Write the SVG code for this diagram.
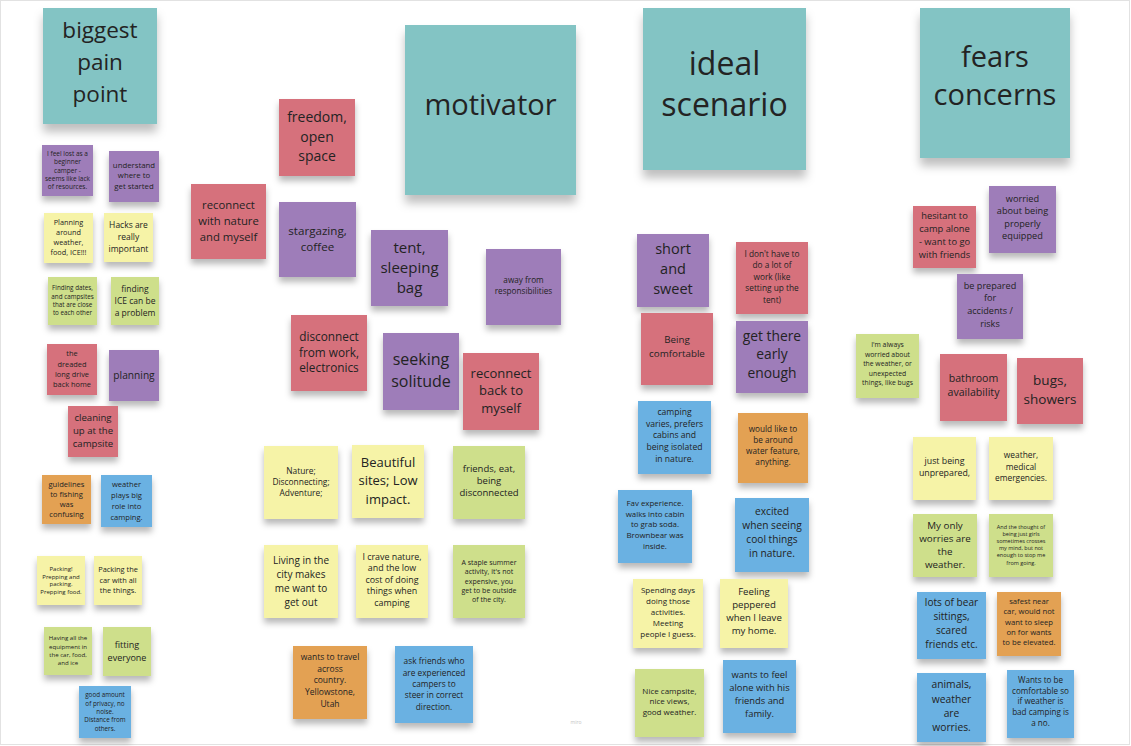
<svg xmlns="http://www.w3.org/2000/svg" width="1131" height="746" viewBox="0 0 1131 746">
<defs>
<filter id="sh" x="-20%" y="-20%" width="140%" height="150%"><feDropShadow dx="0" dy="5" stdDeviation="3" flood-color="#000" flood-opacity="0.28"/></filter>
<filter id="shb" x="-20%" y="-20%" width="140%" height="150%"><feDropShadow dx="0" dy="8" stdDeviation="5" flood-color="#000" flood-opacity="0.25"/></filter>
</defs>
<style>
.n rect{filter:url(#sh)}
.h rect{filter:url(#shb)}
text{font-family:"Open Sans","Liberation Sans",sans-serif;text-anchor:middle;fill:#232323}
.teal{fill:#83c4c4}.red{fill:#d6717b}.pur{fill:#9e7db9}.yel{fill:#f6f3a7}.grn{fill:#cedf8b}.org{fill:#e3a152}.blu{fill:#6bb1e2}
</style>
<rect x="0" y="0" width="1131" height="746" fill="#ffffff"/>
<rect x="0.5" y="0.5" width="1129" height="744" fill="none" stroke="#e2e2e2" stroke-width="1"/>

<g id="connectors"></g>

<!-- headers -->
<g id="h-pain" class="h"><rect class="teal" x="43" y="8" width="114" height="116"/><text font-size="22.5"><tspan x="100" y="38">biggest</tspan><tspan x="100" y="70">pain</tspan><tspan x="100" y="102">point</tspan></text></g>
<g id="h-motivator" class="h"><rect class="teal" x="405" y="25" width="171" height="170"/><text font-size="29"><tspan x="490.5" y="115">motivator</tspan></text></g>
<g id="h-ideal" class="h"><rect class="teal" x="643" y="8" width="163" height="162"/><text font-size="32"><tspan x="724.5" y="75">ideal</tspan><tspan x="724.5" y="116">scenario</tspan></text></g>
<g id="h-fears" class="h"><rect class="teal" x="920" y="8" width="150" height="150"/><text font-size="29"><tspan x="995" y="67">fears</tspan><tspan x="995" y="105">concerns</tspan></text></g>

<!-- biggest pain point column -->
<g id="p1" class="n"><rect class="pur" x="42" y="145" width="51" height="51"/><text font-size="6.5"><tspan x="67.5" y="155.9">I feel lost as a</tspan><tspan x="67.5" y="164.2">beginner</tspan><tspan x="67.5" y="172.5">camper -</tspan><tspan x="67.5" y="180.8">seems like lack</tspan><tspan x="67.5" y="189.1">of resources.</tspan></text></g>
<g id="p2" class="n"><rect class="pur" x="109" y="151" width="50" height="51"/><text font-size="7.8"><tspan x="134" y="167.8">understand</tspan><tspan x="134" y="178.4">where to</tspan><tspan x="134" y="189">get started</tspan></text></g>
<g id="p3" class="n"><rect class="yel" x="44" y="213" width="49" height="50"/><text font-size="7.3"><tspan x="68.5" y="225.2">Planning</tspan><tspan x="68.5" y="235.2">around</tspan><tspan x="68.5" y="245.2">weather,</tspan><tspan x="68.5" y="255.2">food, ICE!!!</tspan></text></g>
<g id="p4" class="n"><rect class="yel" x="104" y="213" width="49" height="49"/><text font-size="8.5"><tspan x="128.5" y="228.4">Hacks are</tspan><tspan x="128.5" y="240.1">really</tspan><tspan x="128.5" y="251.8">important</tspan></text></g>
<g id="p5" class="n"><rect class="grn" x="48" y="277" width="49" height="48"/><text font-size="6.3"><tspan x="72.5" y="290.4">Finding dates,</tspan><tspan x="72.5" y="298.7">and campsites</tspan><tspan x="72.5" y="307">that are close</tspan><tspan x="72.5" y="315.3">to each other</tspan></text></g>
<g id="p6" class="n"><rect class="grn" x="111" y="277" width="48" height="48"/><text font-size="8.5"><tspan x="135" y="291.6">finding</tspan><tspan x="135" y="303.6">ICE can be</tspan><tspan x="135" y="315.6">a problem</tspan></text></g>
<g id="p7" class="n"><rect class="red" x="47" y="344" width="50" height="51"/><text font-size="7.4"><tspan x="72" y="356.3">the</tspan><tspan x="72" y="366.6">dreaded</tspan><tspan x="72" y="376.9">long drive</tspan><tspan x="72" y="387.2">back home</tspan></text></g>
<g id="p8" class="n"><rect class="pur" x="109" y="350" width="50" height="51"/><text font-size="10.2"><tspan x="134" y="378.6">planning</tspan></text></g>
<g id="p9" class="n"><rect class="red" x="68" y="406" width="50" height="51"/><text font-size="9.6"><tspan x="93" y="421.4">cleaning</tspan><tspan x="93" y="434.4">up at the</tspan><tspan x="93" y="447.4">campsite</tspan></text></g>
<g id="p10" class="n"><rect class="org" x="42" y="475" width="49" height="49"/><text font-size="7.6"><tspan x="66.5" y="486.8">guidelines</tspan><tspan x="66.5" y="496.8">to fishing</tspan><tspan x="66.5" y="506.8">was</tspan><tspan x="66.5" y="516.8">confusing</tspan></text></g>
<g id="p11" class="n"><rect class="blu" x="101" y="475" width="51" height="52"/><text font-size="7.6"><tspan x="126.5" y="486.8">weather</tspan><tspan x="126.5" y="497.8">plays big</tspan><tspan x="126.5" y="508.8">role into</tspan><tspan x="126.5" y="519.8">camping.</tspan></text></g>
<g id="p12" class="n"><rect class="yel" x="37" y="556" width="48" height="49"/><text font-size="6"><tspan x="61" y="570.8">Packing!</tspan><tspan x="61" y="578.5">Prepping and</tspan><tspan x="61" y="586.2">packing.</tspan><tspan x="61" y="593.9">Prepping food.</tspan></text></g>
<g id="p13" class="n"><rect class="yel" x="94" y="556" width="48" height="49"/><text font-size="7.4"><tspan x="118" y="572.2">Packing the</tspan><tspan x="118" y="582.7">car with all</tspan><tspan x="118" y="593.2">the things.</tspan></text></g>
<g id="p14" class="n"><rect class="grn" x="44" y="627" width="48" height="48"/><text font-size="6.1"><tspan x="68" y="640.2">Having all the</tspan><tspan x="68" y="648.6">equipment in</tspan><tspan x="68" y="657">the car, food,</tspan><tspan x="68" y="665.4">and ice</tspan></text></g>
<g id="p15" class="n"><rect class="grn" x="103" y="627" width="48" height="49"/><text font-size="9"><tspan x="127" y="647.9">fitting</tspan><tspan x="127" y="660.6">everyone</tspan></text></g>
<g id="p16" class="n"><rect class="blu" x="79" y="686" width="52" height="52"/><text font-size="6.3"><tspan x="105" y="697.3">good amount</tspan><tspan x="105" y="705.6">of privacy, no</tspan><tspan x="105" y="713.9">noise.</tspan><tspan x="105" y="722.2">Distance from</tspan><tspan x="105" y="730.5">others.</tspan></text></g>

<!-- motivator -->
<g id="m1" class="n"><rect class="red" x="279" y="99" width="76" height="77"/><text font-size="14"><tspan x="317" y="122.2">freedom,</tspan><tspan x="317" y="141.7">open</tspan><tspan x="317" y="161.2">space</tspan></text></g>
<g id="m2" class="n"><rect class="red" x="191" y="184" width="75" height="75"/><text font-size="11.3"><tspan x="228.5" y="209.2">reconnect</tspan><tspan x="228.5" y="224.9">with nature</tspan><tspan x="228.5" y="240.6">and myself</tspan></text></g>
<g id="m3" class="n"><rect class="pur" x="279" y="202" width="77" height="75"/><text font-size="11.6"><tspan x="317.5" y="235.1">stargazing,</tspan><tspan x="317.5" y="250.8">coffee</tspan></text></g>
<g id="m4" class="n"><rect class="pur" x="371" y="230" width="77" height="76"/><text font-size="15"><tspan x="409.5" y="252.5">tent,</tspan><tspan x="409.5" y="272.5">sleeping</tspan><tspan x="409.5" y="292.5">bag</tspan></text></g>
<g id="m5" class="n"><rect class="pur" x="486" y="249" width="75" height="76"/><text font-size="8.2"><tspan x="523.5" y="282.5">away from</tspan><tspan x="523.5" y="294">responsibilities</tspan></text></g>
<g id="m6" class="n"><rect class="red" x="291" y="315" width="76" height="76"/><text font-size="11.8"><tspan x="329" y="340.7">disconnect</tspan><tspan x="329" y="356.5">from work,</tspan><tspan x="329" y="372.3">electronics</tspan></text></g>
<g id="m7" class="n"><rect class="pur" x="383" y="333" width="76" height="77"/><text font-size="16"><tspan x="421" y="365.3">seeking</tspan><tspan x="421" y="387.3">solitude</tspan></text></g>
<g id="m8" class="n"><rect class="red" x="463" y="353" width="76" height="77"/><text font-size="13"><tspan x="501" y="378.2">reconnect</tspan><tspan x="501" y="395.4">back to</tspan><tspan x="501" y="412.6">myself</tspan></text></g>
<g id="m9" class="n"><rect class="yel" x="264" y="446" width="74" height="73"/><text font-size="8.4"><tspan x="301" y="473.7">Nature;</tspan><tspan x="301" y="485">Disconnecting;</tspan><tspan x="301" y="496.3">Adventure;</tspan></text></g>
<g id="m10" class="n"><rect class="yel" x="352" y="445" width="72" height="73"/><text font-size="13"><tspan x="388" y="466.7">Beautiful</tspan><tspan x="388" y="485.4">sites; Low</tspan><tspan x="388" y="504.1">impact.</tspan></text></g>
<g id="m11" class="n"><rect class="grn" x="453" y="446" width="72" height="73"/><text font-size="9.5"><tspan x="489" y="471.5">friends, eat,</tspan><tspan x="489" y="483.7">being</tspan><tspan x="489" y="495.9">disconnected</tspan></text></g>
<g id="m12" class="n"><rect class="yel" x="264" y="545" width="74" height="73"/><text font-size="10"><tspan x="301" y="563.5">Living in the</tspan><tspan x="301" y="577.5">city makes</tspan><tspan x="301" y="591.5">me want to</tspan><tspan x="301" y="605.5">get out</tspan></text></g>
<g id="m13" class="n"><rect class="yel" x="356" y="545" width="72" height="73"/><text font-size="8.9"><tspan x="392" y="559.5">I crave nature,</tspan><tspan x="392" y="571">and the low</tspan><tspan x="392" y="582.5">cost of doing</tspan><tspan x="392" y="594">things when</tspan><tspan x="392" y="605.5">camping</tspan></text></g>
<g id="m14" class="n"><rect class="grn" x="453" y="545" width="72" height="73"/><text font-size="7"><tspan x="489" y="564.8">A staple summer</tspan><tspan x="489" y="574.2">activity, it's not</tspan><tspan x="489" y="583.6">expensive, you</tspan><tspan x="489" y="593">get to be outside</tspan><tspan x="489" y="602.4">of the city.</tspan></text></g>
<g id="m15" class="n"><rect class="org" x="293" y="646" width="74" height="73"/><text font-size="8.5"><tspan x="330" y="660">wants to travel</tspan><tspan x="330" y="671.7">across</tspan><tspan x="330" y="683.4">country.</tspan><tspan x="330" y="695.1">Yellowstone,</tspan><tspan x="330" y="706.8">Utah</tspan></text></g>
<g id="m16" class="n"><rect class="blu" x="395" y="646" width="78" height="77"/><text font-size="8.3"><tspan x="434" y="664.4">ask friends who</tspan><tspan x="434" y="675.7">are experienced</tspan><tspan x="434" y="687">campers to</tspan><tspan x="434" y="698.3">steer in correct</tspan><tspan x="434" y="709.6">direction.</tspan></text></g>

<!-- ideal scenario -->
<g id="i1" class="n"><rect class="pur" x="637" y="234" width="72" height="73"/><text font-size="14.5"><tspan x="673" y="253.5">short</tspan><tspan x="673" y="273.5">and</tspan><tspan x="673" y="293.5">sweet</tspan></text></g>
<g id="i2" class="n"><rect class="red" x="736" y="242" width="72" height="72"/><text font-size="8.3"><tspan x="772" y="256.5">I don't have to</tspan><tspan x="772" y="268">do a lot of</tspan><tspan x="772" y="279.5">work (like</tspan><tspan x="772" y="291">setting up the</tspan><tspan x="772" y="302.5">tent)</tspan></text></g>
<g id="i3" class="n"><rect class="red" x="641" y="313" width="72" height="72"/><text font-size="9.8"><tspan x="677" y="343">Being</tspan><tspan x="677" y="357">comfortable</tspan></text></g>
<g id="i4" class="n"><rect class="pur" x="736" y="321" width="72" height="72"/><text font-size="13.8"><tspan x="772" y="340.5">get there</tspan><tspan x="772" y="359.2">early</tspan><tspan x="772" y="377.9">enough</tspan></text></g>
<g id="i5" class="n"><rect class="blu" x="638" y="401" width="73" height="73"/><text font-size="8.6"><tspan x="674.5" y="414.8">camping</tspan><tspan x="674.5" y="426.5">varies, prefers</tspan><tspan x="674.5" y="438.2">cabins and</tspan><tspan x="674.5" y="449.9">being isolated</tspan><tspan x="674.5" y="461.6">in nature.</tspan></text></g>
<g id="i6" class="n"><rect class="org" x="738" y="413" width="70" height="70"/><text font-size="8.2"><tspan x="773" y="432">would like to</tspan><tspan x="773" y="443">be around</tspan><tspan x="773" y="454">water feature,</tspan><tspan x="773" y="465">anything.</tspan></text></g>
<g id="i7" class="n"><rect class="blu" x="618" y="490" width="74" height="73"/><text font-size="7.9"><tspan x="655" y="505.8">Fav experience.</tspan><tspan x="655" y="516.6">walks into cabin</tspan><tspan x="655" y="527.4">to grab soda.</tspan><tspan x="655" y="538.2">Brownbear was</tspan><tspan x="655" y="549">inside.</tspan></text></g>
<g id="i8" class="n"><rect class="blu" x="735" y="498" width="74" height="74"/><text font-size="10.2"><tspan x="772" y="515">excited</tspan><tspan x="772" y="529">when seeing</tspan><tspan x="772" y="543">cool things</tspan><tspan x="772" y="557">in nature.</tspan></text></g>
<g id="i9" class="n"><rect class="yel" x="633" y="579" width="70" height="69"/><text font-size="8"><tspan x="668" y="592.5">Spending days</tspan><tspan x="668" y="603.5">doing those</tspan><tspan x="668" y="614.5">activities.</tspan><tspan x="668" y="625.5">Meeting</tspan><tspan x="668" y="636.5">people I guess.</tspan></text></g>
<g id="i10" class="n"><rect class="yel" x="720" y="579" width="68" height="69"/><text font-size="9.6"><tspan x="754" y="595.3">Feeling</tspan><tspan x="754" y="608.3">peppered</tspan><tspan x="754" y="621.3">when I leave</tspan><tspan x="754" y="634.3">my home.</tspan></text></g>
<g id="i11" class="n"><rect class="grn" x="635" y="669" width="69" height="68"/><text font-size="8"><tspan x="669.5" y="693.5">Nice campsite,</tspan><tspan x="669.5" y="704.2">nice views,</tspan><tspan x="669.5" y="714.9">good weather.</tspan></text></g>
<g id="i12" class="n"><rect class="blu" x="723" y="660" width="73" height="73"/><text font-size="9.4"><tspan x="759.5" y="677.8">wants to feel</tspan><tspan x="759.5" y="690.8">alone with his</tspan><tspan x="759.5" y="703.8">friends and</tspan><tspan x="759.5" y="716.8">family.</tspan></text></g>

<!-- fears concerns -->
<g id="f1" class="n"><rect class="red" x="913" y="206" width="63" height="62"/><text font-size="9.3"><tspan x="944.5" y="218.5">hesitant to</tspan><tspan x="944.5" y="231.5">camp alone</tspan><tspan x="944.5" y="244.5">- want to go</tspan><tspan x="944.5" y="257.5">with friends</tspan></text></g>
<g id="f2" class="n"><rect class="pur" x="989" y="186" width="67" height="67"/><text font-size="9.2"><tspan x="1022.5" y="201.8">worried</tspan><tspan x="1022.5" y="214.3">about being</tspan><tspan x="1022.5" y="226.8">properly</tspan><tspan x="1022.5" y="239.3">equipped</tspan></text></g>
<g id="f3" class="n"><rect class="pur" x="957" y="274" width="66" height="65"/><text font-size="9.1"><tspan x="990" y="288.6">be prepared</tspan><tspan x="990" y="301.3">for</tspan><tspan x="990" y="314">accidents /</tspan><tspan x="990" y="326.7">risks</tspan></text></g>
<g id="f4" class="n"><rect class="grn" x="856" y="334" width="63" height="64"/><text font-size="6.8"><tspan x="887.5" y="347">I'm always</tspan><tspan x="887.5" y="356.6">worried about</tspan><tspan x="887.5" y="366.2">the weather, or</tspan><tspan x="887.5" y="375.8">unexpected</tspan><tspan x="887.5" y="385.4">things, like bugs</tspan></text></g>
<g id="f5" class="n"><rect class="red" x="940" y="354" width="67" height="67"/><text font-size="10.6"><tspan x="973.5" y="381.5">bathroom</tspan><tspan x="973.5" y="395.5">availability</tspan></text></g>
<g id="f6" class="n"><rect class="red" x="1017" y="358" width="66" height="66"/><text font-size="13.5"><tspan x="1050" y="384.5">bugs,</tspan><tspan x="1050" y="403.5">showers</tspan></text></g>
<g id="f7" class="n"><rect class="yel" x="913" y="437" width="63" height="63"/><text font-size="8.8"><tspan x="944.5" y="464.3">just being</tspan><tspan x="944.5" y="476">unprepared,</tspan></text></g>
<g id="f8" class="n"><rect class="yel" x="989" y="437" width="64" height="63"/><text font-size="8.4"><tspan x="1021" y="457.8">weather,</tspan><tspan x="1021" y="469.5">medical</tspan><tspan x="1021" y="481.2">emergencies.</tspan></text></g>
<g id="f9" class="n"><rect class="grn" x="913" y="514" width="64" height="63"/><text font-size="9.8"><tspan x="945" y="528.5">My only</tspan><tspan x="945" y="541.8">worries are</tspan><tspan x="945" y="555.1">the</tspan><tspan x="945" y="568.4">weather.</tspan></text></g>
<g id="f10" class="n"><rect class="grn" x="989" y="514" width="64" height="63"/><text font-size="5.5"><tspan x="1021" y="528.5">And the thought of</tspan><tspan x="1021" y="535.7">being just girls</tspan><tspan x="1021" y="542.9">sometimes crosses</tspan><tspan x="1021" y="550.1">my mind, but not</tspan><tspan x="1021" y="557.3">enough to stop me</tspan><tspan x="1021" y="564.5">from going.</tspan></text></g>
<g id="f11" class="n"><rect class="blu" x="917" y="592" width="69" height="67"/><text font-size="10.1"><tspan x="951.5" y="605.5">lots of bear</tspan><tspan x="951.5" y="619.7">sittings,</tspan><tspan x="951.5" y="633.9">scared</tspan><tspan x="951.5" y="648.1">friends etc.</tspan></text></g>
<g id="f12" class="n"><rect class="org" x="997" y="592" width="64" height="64"/><text font-size="7.7"><tspan x="1029" y="604">safest near</tspan><tspan x="1029" y="614.3">car, would not</tspan><tspan x="1029" y="624.6">want to sleep</tspan><tspan x="1029" y="634.9">on for wants</tspan><tspan x="1029" y="645.2">to be elevated.</tspan></text></g>
<g id="f13" class="n"><rect class="blu" x="917" y="673" width="69" height="69"/><text font-size="10.3"><tspan x="951.5" y="688.3">animals,</tspan><tspan x="951.5" y="702.6">weather</tspan><tspan x="951.5" y="716.9">are</tspan><tspan x="951.5" y="731.2">worries.</tspan></text></g>
<g id="f14" class="n"><rect class="blu" x="1007" y="670" width="67" height="68"/><text font-size="8.1"><tspan x="1040.5" y="682.8">Wants to be</tspan><tspan x="1040.5" y="693.6">comfortable so</tspan><tspan x="1040.5" y="704.4">if weather is</tspan><tspan x="1040.5" y="715.2">bad camping is</tspan><tspan x="1040.5" y="726">a no.</tspan></text></g>

<text x="576" y="724" font-size="5" style="fill:#c4c4c4">miro</text>
</svg>
